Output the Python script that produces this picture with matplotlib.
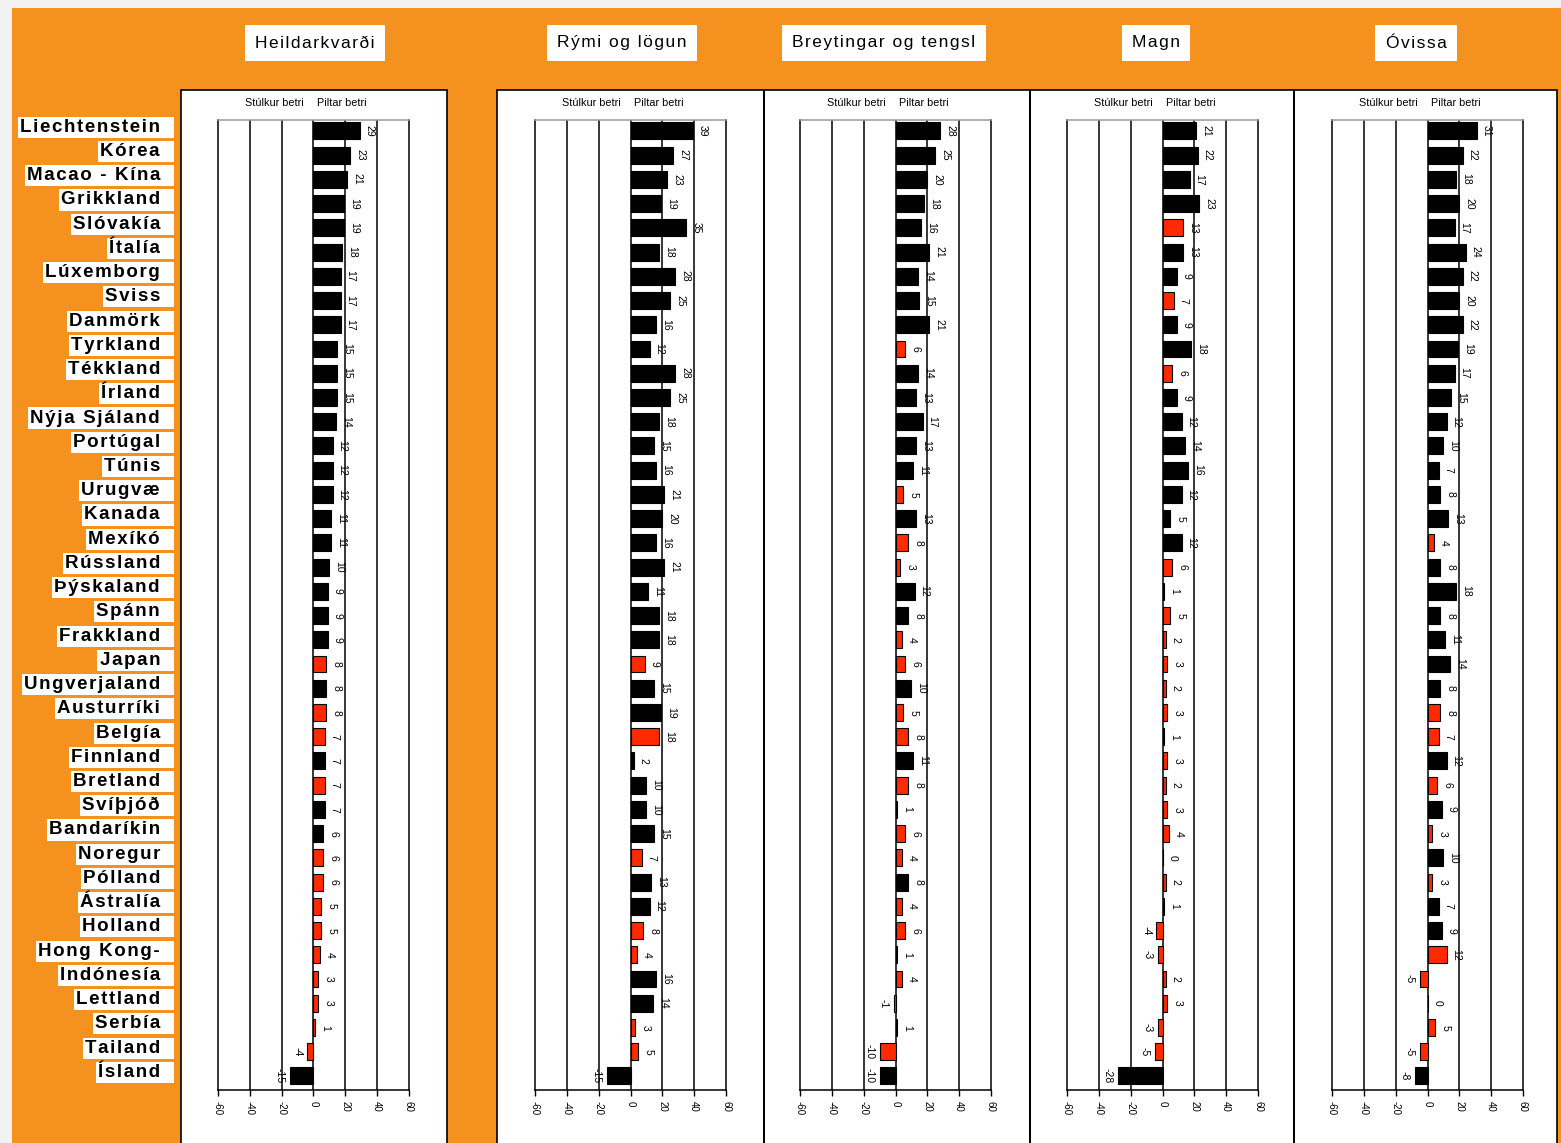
"""
Munur á frammistöðu pilta og stúlkna eftir löndum - fimm kvarðar.
"""

import matplotlib
matplotlib.use("Agg")
import matplotlib.pyplot as plt
from matplotlib.patches import Rectangle
from matplotlib.transforms import blended_transform_factory

plt.rcParams['font.family'] = ['Liberation Sans', 'DejaVu Sans']

lond = ['Liechtenstein', 'Kórea', 'Macao - Kína', 'Grikkland', 'Slóvakía', 'Ítalía',
        'Lúxemborg', 'Sviss', 'Danmörk', 'Tyrkland', 'Tékkland', 'Írland',
        'Nýja Sjáland', 'Portúgal', 'Túnis', 'Urugvæ', 'Kanada', 'Mexíkó',
        'Rússland', 'Þýskaland', 'Spánn', 'Frakkland', 'Japan', 'Ungverjaland',
        'Austurríki', 'Belgía', 'Finnland', 'Bretland', 'Svíþjóð', 'Bandaríkin',
        'Noregur', 'Pólland', 'Ástralía', 'Holland', 'Hong Kong-', 'Indónesía',
        'Lettland', 'Serbía', 'Tailand', 'Ísland']

kvardar = ['Heildarkvarði', 'Rými og lögun', 'Breytingar og tengsl', 'Magn', 'Óvissa']

# munur pilta og stúlkna (stig)
heild = [29, 23, 21, 19, 19, 18, 17, 17, 17, 15, 15, 15, 14, 12, 12, 12, 11, 11, 10, 9,
         9, 9, 8, 8, 8, 7, 7, 7, 7, 6, 6, 6, 5, 5, 4, 3, 3, 1, -4, -15]
rymi = [39, 27, 23, 19, 35, 18, 28, 25, 16, 12, 28, 25, 18, 15, 16, 21, 20, 16, 21, 11,
        18, 18, 9, 15, 19, 18, 2, 10, 10, 15, 7, 13, 12, 8, 4, 16, 14, 3, 5, -15]
breytingar = [28, 25, 20, 18, 16, 21, 14, 15, 21, 6, 14, 13, 17, 13, 11, 5, 13, 8, 3, 12,
              8, 4, 6, 10, 5, 8, 11, 8, 1, 6, 4, 8, 4, 6, 1, 4, -1, 1, -10, -10]
magn = [21, 22, 17, 23, 13, 13, 9, 7, 9, 18, 6, 9, 12, 14, 16, 12, 5, 12, 6, 1,
        5, 2, 3, 2, 3, 1, 3, 2, 3, 4, 0, 2, 1, -4, -3, 2, 3, -3, -5, -28]
ovissa = [31, 22, 18, 20, 17, 24, 22, 20, 22, 19, 17, 15, 12, 10, 7, 8, 13, 4, 8, 18,
          8, 11, 14, 8, 8, 7, 12, 6, 9, 3, 10, 3, 7, 9, 12, -5, 0, 5, -5, -8]

# 1 = marktækur munur (svört súla), 0 = ekki marktækur (rauð súla)
heild_mt = [1] * 22 + [0, 1, 0, 0, 1, 0, 1, 1, 0, 0, 0, 0, 0, 0, 0, 0, 0, 1]
rymi_mt = [1] * 22 + [0, 1, 1, 0, 1, 1, 1, 1, 0, 1, 1, 0, 0, 1, 1, 0, 0, 1]
breytingar_mt = [1, 1, 1, 1, 1, 1, 1, 1, 1, 0, 1, 1, 1, 1, 1, 0, 1, 0, 0, 1,
                 1, 0, 0, 1, 0, 0, 1, 0, 1, 0, 0, 1, 0, 0, 1, 0, 0, 1, 0, 1]
magn_mt = [1, 1, 1, 1, 0, 1, 1, 0, 1, 1, 0, 1, 1, 1, 1, 1, 1, 1, 0, 1,
           0, 0, 0, 0, 0, 1, 0, 0, 0, 0, 1, 0, 1, 0, 0, 0, 0, 0, 0, 1]
ovissa_mt = [1] * 17 + [0, 1, 1,
             1, 1, 1, 1, 0, 0, 1, 0, 1, 0, 1, 0, 1, 1, 0, 0, 1, 0, 0, 1]

gildi = [heild, rymi, breytingar, magn, ovissa]
marktaekt = [heild_mt, rymi_mt, breytingar_mt, magn_mt, ovissa_mt]
xticks = [-60, -40, -20, 0, 20, 40, 60]

ORANGE = '#F5911E'
RED = '#FF2A00'
W, H = 1561, 1143

fig = plt.figure(figsize=(W / 100, H / 100), dpi=100)
fig.patch.set_facecolor('#F2F2F2')


def frac(x0, y0, x1, y1):
    # pixel box (top-left origin) -> figure fraction rect
    return [x0 / W, 1 - y1 / H, (x1 - x0) / W, (y1 - y0) / H]


def px_rect(x0, y0, x1, y1, **kw):
    r = frac(x0, y0, x1, y1)
    fig.patches.append(Rectangle((r[0], r[1]), r[2], r[3], transform=fig.transFigure, **kw))


def spaced(s):
    # the original uses a wide letter spacing
    return '\u200a'.join(s)


# background blocks
px_rect(12, 8, W, H, facecolor=ORANGE, edgecolor='none', zorder=0)
px_rect(181, 90, 447, H + 5, facecolor='white', edgecolor='black', lw=1.2, zorder=1)
px_rect(497, 90, 1557, H + 5, facecolor='white', edgecolor='black', lw=1.2, zorder=1)
for xs in [763, 1029, 1293]:
    px_rect(xs, 90, xs + 1.5, H, facecolor='black', edgecolor='none', zorder=2)

# panel title boxes
titil_x = [315, 622, 884, 1156, 1416]
for t, xc in zip(kvardar, titil_x):
    fig.text(xc / W, 1 - 43 / H, spaced(t), ha='center', va='center', fontsize=12.5,
             bbox=dict(facecolor='white', edgecolor='none', pad=7.5), zorder=5)

ax_left = [218, 535, 800, 1067, 1332]
n = len(lond)
axes = []
for k in range(5):
    ax = fig.add_axes(frac(ax_left[k], 120, ax_left[k] + 191, 1090))
    ax.set_zorder(3)
    vals = gildi[k]
    cols = ['black' if m else RED for m in marktaekt[k]]
    for g in [-40, -20, 0, 20, 40]:
        ax.axvline(g, color='black', lw=1.1, zorder=1)
    ax.barh(range(n), vals, height=0.7, color=cols, edgecolor='black', lw=0.8, zorder=2)
    for i, v in enumerate(vals):
        if v >= 0:
            ax.text(v + 3.2, i, str(v), rotation=-90, ha='left', va='center', fontsize=7.5, zorder=3)
        else:
            ax.text(v - 3.2, i, str(v), rotation=-90, ha='right', va='center', fontsize=7.5, zorder=3)
    ax.set_xlim(-60, 60)
    ax.set_ylim(n - 0.42, -0.45)
    ax.set_yticks([])
    ax.set_xticks(xticks)
    ax.set_xticklabels([str(t) for t in xticks], rotation=-90, fontsize=7)
    ax.tick_params(axis='x', length=4, width=1, pad=4)
    for s in ax.spines.values():
        s.set_color('black')
        s.set_linewidth(1.1)
    ax.spines['top'].set_color('#999999')
    tr = ax.get_xaxis_transform()
    ax.text(-6, 1.0175, 'Stúlkur betri', transform=tr, ha='right', va='center', fontsize=7.8)
    ax.text(2, 1.0175, 'Piltar betri', transform=tr, ha='left', va='center', fontsize=7.8)
    axes.append(ax)

# country names down the left edge
tr = blended_transform_factory(fig.transFigure, axes[0].transData)
for i, name in enumerate(lond):
    axes[0].text(160 / W, i - 0.15, spaced(name), transform=tr, ha='right', va='center',
                 fontsize=13.5, fontweight='bold', clip_on=False, zorder=6,
                 bbox=dict(facecolor='white', edgecolor='none', pad=1.5))
    # white box runs a little past the text on the right
    axes[0].text(172 / W, i - 0.15, '    ', transform=tr, ha='right', va='center',
                 fontsize=13.5, clip_on=False, zorder=5,
                 bbox=dict(facecolor='white', edgecolor='none', pad=1.5))

plt.savefig('out.png', dpi=100, facecolor=fig.get_facecolor())
